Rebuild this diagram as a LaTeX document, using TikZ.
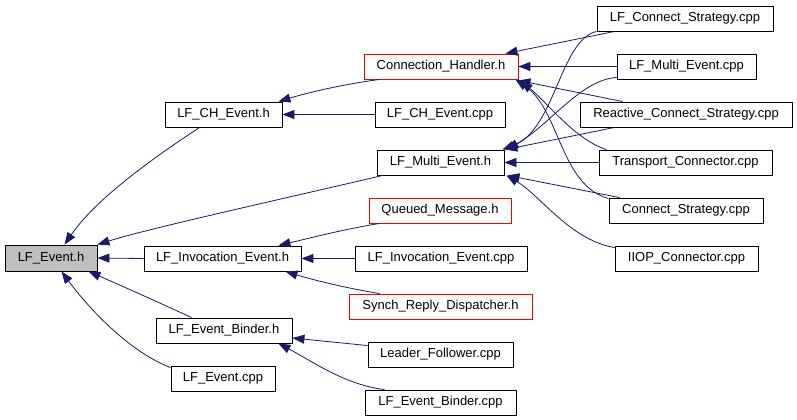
\documentclass[tikz,border=0pt]{standalone}
\usepackage{fontspec}
\setmainfont{Liberation Sans}
\usetikzlibrary{arrows.meta}
\definecolor{edgeblue}{HTML}{191970}
\definecolor{boxgray}{HTML}{BFBFBF}
\begin{document}
\begin{tikzpicture}[x=1bp,y=-1bp,
  box/.style={draw=black, line width=0.9bp, inner sep=0pt, minimum height=25bp,
    font=\fontsize{13bp}{15bp}\selectfont, text=black},
  redbox/.style={box, draw=red},
  edge/.style={draw=edgeblue, line width=0.8bp, -{Triangle[length=12bp,width=9bp]}}
]
\fill[white] (0,0) rectangle (797,419);
\useasboundingbox (0,0) rectangle (797,419);

% nodes
\node[box, fill=boxgray, minimum width=92bp, minimum height=26bp] (ev) at (51,258) {LF\_Event.h};
\node[box, minimum width=117bp] (ch) at (223.5,114.5) {LF\_CH\_Event.h};
\node[redbox, minimum width=154bp] (conh) at (441,66.5) {Connection\_Handler.h};
\node[box, minimum width=130bp] (chcpp) at (440,114.5) {LF\_CH\_Event.cpp};
\node[box, minimum width=127bp] (me) at (440.5,162.5) {LF\_Multi\_Event.h};
\node[redbox, minimum width=142bp] (qm) at (440,210.5) {Queued\_Message.h};
\node[box, minimum width=157bp] (ie) at (222.5,258.5) {LF\_Invocation\_Event.h};
\node[box, minimum width=172bp] (iecpp) at (441,258.5) {LF\_Invocation\_Event.cpp};
\node[redbox, minimum width=183bp] (srd) at (440.5,306.5) {Synch\_Reply\_Dispatcher.h};
\node[box, minimum width=136bp] (eb) at (224,330.5) {LF\_Event\_Binder.h};
\node[box, minimum width=104bp] (evcpp) at (223,378.5) {LF\_Event.cpp};
\node[box, minimum width=145bp] (lfcpp) at (440.5,354.5) {Leader\_Follower.cpp};
\node[box, minimum width=151bp] (ebcpp) at (440.5,402.5) {LF\_Event\_Binder.cpp};
\node[box, minimum width=176bp] (lcs) at (685,18.5) {LF\_Connect\_Strategy.cpp};
\node[box, minimum width=139bp] (mecpp) at (686.5,66.5) {LF\_Multi\_Event.cpp};
\node[box, minimum width=212bp] (rcs) at (686,114.5) {Reactive\_Connect\_Strategy.cpp};
\node[box, minimum width=173bp] (tc) at (685.5,162.5) {Transport\_Connector.cpp};
\node[box, minimum width=154bp] (cs) at (686,210.5) {Connect\_Strategy.cpp};
\node[box, minimum width=143bp] (iiop) at (686.5,258.5) {IIOP\_Connector.cpp};

% edges into LF_Event.h
\draw[edge] ([xshift=35bp]ch.south west) .. controls (150,160) and (95,200) .. ([xshift=60bp]ev.north west);
\draw[edge] ([xshift=6bp]me.south west) .. controls (300,195) and (150,228) .. (ev.north east);
\draw[edge] (ie.west) -- (ev.east);
\draw[edge] ([xshift=36bp]eb.north west) .. controls (160,303) and (120,285) .. ([xshift=-9bp]ev.south east);
\draw[edge] ([yshift=-2bp]evcpp.north west) .. controls (130,352) and (90,310) .. ([xshift=57bp]ev.south west);

% edges into LF_CH_Event.h
\draw[edge] ([xshift=16bp]conh.south west) .. controls (345,84) and (310,92) .. ([xshift=-4bp]ch.north east);
\draw[edge] (chcpp.west) -- (ch.east);

% edges into LF_Invocation_Event.h
\draw[edge] ([xshift=11bp]qm.south west) .. controls (345,229) and (310,238) .. ([xshift=-23bp]ie.north east);
\draw[edge] (iecpp.west) -- (ie.east);
\draw[edge] ([xshift=31bp]srd.north west) .. controls (345,288) and (310,279) .. ([xshift=-16bp]ie.south east);

% edges into LF_Event_Binder.h
\draw[edge] ([yshift=-4bp]lfcpp.north west) -- ([yshift=-7.5bp]eb.east);
\draw[edge] ([xshift=20bp]ebcpp.north west) .. controls (345,385) and (310,360) .. ([xshift=-14bp]eb.south east);

% edges into Connection_Handler.h
\draw[edge] ([xshift=18bp]lcs.south west) -- ([xshift=-13bp]conh.north east);
\draw[edge] (mecpp.west) -- (conh.east);
\draw[edge] ([xshift=43bp]rcs.north west) -- ([yshift=-1bp]conh.south east);
\draw[edge] ([xshift=8bp]tc.north west) .. controls (575,140) and (545,100) .. ([xshift=2bp,yshift=-2bp]conh.south east);
\draw[edge] ([yshift=-1bp]cs.north west) .. controls (560,185) and (560,110) .. ([xshift=-3bp]conh.south east);

% edges into LF_Multi_Event.h
\draw[edge] (lcs.south west) .. controls (560,40) and (555,130) .. ([xshift=-2bp]me.north east);
\draw[edge] ([yshift=2bp]mecpp.south west) .. controls (580,80) and (550,125) .. ([xshift=2bp]me.north east);
\draw[edge] ([xshift=35bp]rcs.south west) -- ([xshift=1bp]me.north east);
\draw[edge] (tc.west) -- (me.east);
\draw[edge] ([xshift=11bp]cs.north west) -- ([xshift=3bp]me.south east);
\draw[edge] ([yshift=-2bp]iiop.north west) .. controls (570,240) and (540,195) .. ([xshift=2bp]me.south east);
\end{tikzpicture}
\end{document}
